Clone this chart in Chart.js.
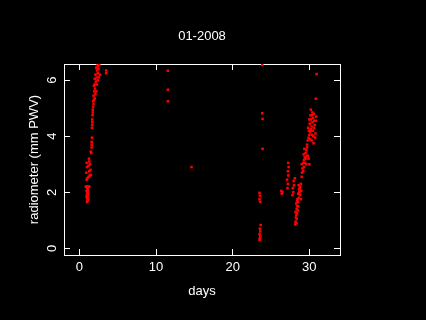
<!DOCTYPE html>
<html>
<head>
<meta charset="utf-8">
<script src="https://cdn.jsdelivr.net/npm/chart.js@4"></script>
<style>
  html, body { margin: 0; padding: 0; background: #000; }
  canvas { display: block; }
</style>
</head>
<body>
<canvas id="grafico" width="426" height="320"></canvas>
<script>
// datos (dia del mes, PWV en mm)
const dias = [
  1.0, 1.05, 1.1, 1.0, 1.08, 1.12, 1.0, 1.05, 1.15, 0.95, 1.1, 0.9, 1.0, 1.2, 1.3,
  1.15, 0.95, 1.15, 1.05, 0.85, 1.1,
  0.95, 1.05, 1.2, 1.35, 1.5, 0.9, 1.3, 1.45, 1.0, 1.2, 1.4, 0.95, 1.3, 1.25, 1.5, 1.55,
  1.6, 1.62, 1.6, 1.65,
  1.65, 1.67, 1.7, 1.68, 1.72, 1.75,
  1.75, 1.8, 1.85, 1.8, 1.9, 2.0, 1.85, 2.1, 1.95, 2.2, 2.05,
  1.9, 2.0, 2.3, 2.15, 2.4, 2.0, 2.25, 2.55, 2.1, 2.4, 2.7, 2.3, 2.5, 2.2, 2.4, 2.6, 2.35,
  3.5, 3.5,
  11.55, 11.55, 11.55, 14.63,
  23.86, 23.86, 23.9, 23.9, 23.5, 23.55, 23.5, 23.6, 23.65, 23.55, 23.6, 23.5, 23.6, 23.55, 23.5,
  26.4, 26.5, 26.35,
  27.15, 27.2, 27.1, 27.25, 27.2, 27.3, 27.25,
  27.8, 27.9, 27.85, 28.0, 27.95, 28.1,
  28.15, 28.2, 28.25, 28.3, 28.2, 28.35, 28.4, 28.3, 28.5, 28.45, 28.6, 28.55, 28.7, 28.65, 28.8, 28.9, 28.75, 28.4,
  28.3, 28.35, 28.4, 28.5, 28.55, 28.8, 28.95, 28.6, 28.9,
  29.0, 29.05, 29.1, 29.0, 29.2, 29.3, 29.4, 29.25, 29.5, 29.6, 29.35, 29.7, 29.8, 29.9, 30.0,
  29.5, 29.6, 29.3, 29.45, 29.7, 29.2,
  29.7, 29.8, 29.9, 30.0, 30.1, 30.2, 29.85, 30.3, 30.05, 30.4, 30.2, 30.5, 30.35, 30.6, 30.25, 30.6, 30.7, 30.8, 30.75, 30.55, 30.85, 30.9,
  30.0, 30.15, 30.45, 30.5, 30.3, 30.1, 29.95, 30.65, 30.4, 30.2, 30.35,
  30.85, 30.95
];
const pwv = [
  1.65, 1.7, 1.72, 1.8, 1.85, 1.9, 1.95, 2.0, 2.02, 2.05, 2.1, 2.2, 2.2, 2.2, 2.2,
  1.75, 1.85, 1.95, 2.12, 2.2, 2.2,
  2.45, 2.5, 2.55, 2.6, 2.62, 2.7, 2.75, 2.8, 2.9, 2.95, 3.0, 3.05, 3.1, 3.2, 3.45, 3.4,
  3.6, 3.7, 3.8, 3.95,
  4.3, 4.4, 4.5, 4.6, 4.75, 4.85,
  4.95, 5.05, 5.15, 5.25, 5.3, 5.35, 5.45, 5.5, 5.6, 5.6, 5.7,
  5.8, 5.85, 5.85, 5.95, 6.0, 6.05, 6.1, 6.1, 6.2, 6.25, 6.2, 6.35, 6.4, 6.45, 6.5, 6.55, 6.6,
  6.25, 6.35,
  6.34, 5.66, 5.25, 2.9,
  6.55, 4.82, 4.62, 3.55, 1.98, 1.88, 1.75, 1.66, 0.83, 0.7, 0.6, 0.5, 0.42, 0.35, 0.3,
  1.95, 2.0, 2.05,
  2.15, 2.3, 2.45, 2.6, 2.75, 2.9, 3.05,
  1.9, 2.0, 2.15, 2.25, 2.4, 2.5,
  0.85, 0.95, 1.1, 1.2, 1.3, 1.4, 1.5, 1.6, 1.65, 1.75, 1.8, 1.95, 2.0, 2.1, 2.2, 2.3, 2.15, 1.7,
  0.9, 1.05, 1.25, 1.35, 1.5, 1.9, 2.05, 2.25, 1.75,
  2.55, 2.7, 2.85, 3.0, 3.05, 3.15, 3.25, 3.35, 3.4, 3.5, 3.55, 3.6, 3.3, 3.2, 3.0,
  3.2, 3.0, 2.9, 3.05, 3.3, 2.75,
  3.7, 3.85, 3.95, 4.05, 4.15, 4.25, 4.3, 4.35, 4.45, 4.5, 4.6, 4.65, 4.75, 4.8, 4.2, 4.3, 4.4, 4.1, 3.95, 3.75, 4.55, 4.7,
  4.6, 4.75, 4.2, 4.0, 3.85, 3.9, 4.2, 4.55, 4.85, 4.95, 4.05,
  5.34, 6.22
];
const ticksX = [0, 10, 20, 30];
const ticksY = [0, 2, 4, 6];

const fuente = { family: 'Liberation Sans', size: 13, lineHeight: 1.2 };
const blanco = '#ffffff';

const puntos = dias.map((d, i) => ({ x: d, y: pwv[i] }));

function ejeBase(min, max, lista) {
  return {
    type: 'linear',
    min: min,
    max: max,
    afterBuildTicks: s => { s.ticks = lista.map(v => ({ value: v })); },
    border: { display: true, color: blanco, width: 1 },
    grid: { drawOnChartArea: false, color: blanco, lineWidth: 1, tickLength: -6 }
  };
}

const ejeX = ejeBase(-2, 34, ticksX);
ejeX.position = 'bottom';
ejeX.ticks = { color: blanco, font: fuente, padding: 11, maxRotation: 0 };
ejeX.title = { display: true, text: 'days', color: blanco, font: fuente, padding: { top: 0, bottom: 21 } };
ejeX.afterFit = s => { s.height = 65; };

// eje de arriba: solo marcas y el titulo del grafico
const ejeX2 = ejeBase(-2, 34, ticksX);
ejeX2.position = 'top';
ejeX2.ticks = { display: false };
ejeX2.title = { display: true, text: '01-2008', color: blanco, font: fuente, padding: { top: 29, bottom: 0 } };
ejeX2.afterFit = s => { s.height = 64; };

const ejeY = ejeBase(-0.24, 6.58, ticksY);
ejeY.position = 'left';
ejeY.ticks = { color: blanco, font: fuente, padding: 14, minRotation: 90, maxRotation: 90, crossAlign: 'center' };
ejeY.title = { display: true, text: 'radiometer (mm PWV)', color: blanco, font: fuente, padding: { top: 27, bottom: 0 } };
ejeY.afterFit = s => { s.width = 64; };

const ejeY2 = ejeBase(-0.24, 6.58, ticksY);
ejeY2.position = 'right';
ejeY2.ticks = { display: false };
ejeY2.afterFit = s => { s.width = 86; };

const ctx = document.getElementById('grafico');

let graficoPWV = new Chart(ctx, {
  type: 'scatter',
  data: {
    datasets: [{
      label: 'radiometer',
      data: puntos,
      backgroundColor: '#ff0000',
      borderWidth: 0,
      pointStyle: 'rect',
      pointRadius: 1.8,
      pointHoverRadius: 1.8
    }]
  },
  options: {
    responsive: false,
    animation: false,
    devicePixelRatio: 1,
    layout: { padding: 0 },
    plugins: {
      legend: { display: false },
      tooltip: { enabled: false }
    },
    scales: {
      x: ejeX,
      x2: ejeX2,
      y: ejeY,
      y2: ejeY2
    }
  }
});
</script>
</body>
</html>
